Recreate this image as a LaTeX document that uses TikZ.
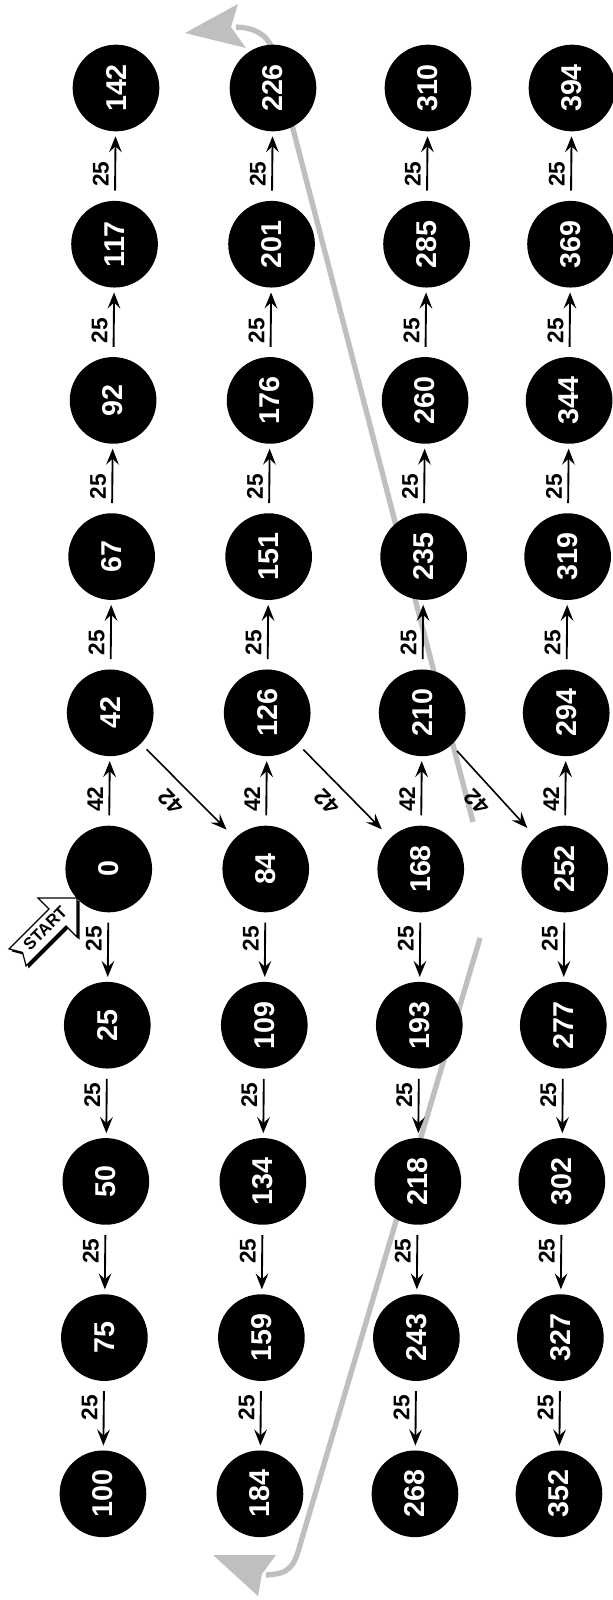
\documentclass[tikz,border=0pt]{standalone}
\usepackage{fontspec}
\setmainfont{Liberation Sans}
\usetikzlibrary{arrows.meta}
\begin{document}
\begin{tikzpicture}[x=0.75pt,y=-0.75pt,
  ball/.style={circle,fill=black,minimum size=65pt,inner sep=0pt,text=white,font=\fontsize{21.5}{21.5}\selectfont\bfseries,rotate=90},
  arr/.style={line width=1.4pt,-{Stealth[length=12pt,width=9.5pt,inset=4.5pt]},shorten <=7.5pt,shorten >=3.5pt},
  lbl/.style={font=\fontsize{17}{17}\selectfont\bfseries,rotate=90,anchor=south,inner sep=4pt,pos=0.38},
  dlbl/.style={font=\fontsize{17}{17}\selectfont\bfseries,rotate=134,anchor=south,inner sep=8pt,pos=0.47},
  grayline/.style={line width=4pt,draw=gray!50},
  grayhead/.style={fill=gray!50}]
\useasboundingbox (0,0) rectangle (613,1600);
% gray path lines (behind everything)
\draw[grayline] (473,822) -- (272,48) .. controls (266,34) and (255,28) .. (236,27);
\fill[grayhead] (185,33) -- (238,4) -- (231,27) -- (246,48) -- cycle;
\draw[grayline] (480,938) -- (300,1545) .. controls (294,1568) and (288,1574) .. (266,1575);
\fill[grayhead] (213,1555) -- (276,1555) -- (262,1574) -- (258,1596) -- cycle;
% nodes
\foreach \v [count=\r from 0] in {142,117,92,67,42,0,25,50,75,100}
  \node[ball] (n-0-\r) at ({116-1.45*\r},{88+156.2*\r}) {\v};
\foreach \v [count=\r from 0] in {226,201,176,151,126,84,109,134,159,184}
  \node[ball] (n-1-\r) at ({273-1.45*\r},{88+156.2*\r}) {\v};
\foreach \v [count=\r from 0] in {310,285,260,235,210,168,193,218,243,268}
  \node[ball] (n-2-\r) at ({428-1.45*\r},{88+156.2*\r}) {\v};
\foreach \v [count=\r from 0] in {394,369,344,319,294,252,277,302,327,352}
  \node[ball] (n-3-\r) at ({572-1.45*\r},{88+156.2*\r}) {\v};
% vertical arrows
\foreach \c in {0,...,3}{
  \foreach \r in {0,...,3}{
    \pgfmathtruncatemacro\rr{\r+1}
    \draw[arr] (n-\c-\rr) -- (n-\c-\r) node[lbl]{25};
  }
  \draw[arr] (n-\c-5) -- (n-\c-4) node[lbl]{42};
  \foreach \r in {5,...,8}{
    \pgfmathtruncatemacro\rr{\r+1}
    \draw[arr] (n-\c-\r) -- (n-\c-\rr) node[lbl]{25};
  }
}
% diagonal arrows
\foreach \c in {0,1,2}{
  \pgfmathtruncatemacro\cc{\c+1}
  \draw[arr,line width=1.2pt,shorten <=6pt,shorten >=9pt] (n-\c-4) -- (n-\cc-5) node[dlbl]{42};
}
% START arrow
\begin{scope}[shift={(79.5,900.5)},rotate=45,x=0.75pt,y=0.75pt]
  \fill (0,0) -- (-27.6,27.6) -- (-27.6,12) -- (-84,12) -- (-77,0) -- (-84,-12) -- (-27.6,-12) -- (-27.6,-27.6) -- cycle;
\end{scope}
\begin{scope}[shift={(77,898)},rotate=45,x=0.75pt,y=0.75pt]
  \draw[fill=white,line width=0.9pt,line join=miter] (0,0) -- (-27.6,27.6) -- (-27.6,12) -- (-84,12) -- (-77,0) -- (-84,-12) -- (-27.6,-12) -- (-27.6,-27.6) -- cycle;
  \node[rotate=45,inner sep=0pt,font=\fontsize{12.5}{12.5}\selectfont\bfseries] (start) at (-44,1) {START};
\end{scope}
\end{tikzpicture}
\end{document}
